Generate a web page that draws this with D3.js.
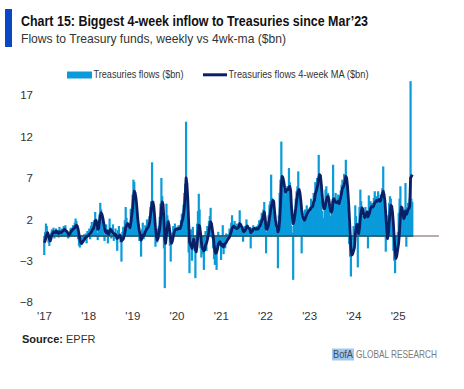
<!DOCTYPE html>
<meta charset="utf-8" />
<style>
  body {
    margin: 0;
    background: white;
  }
  text {
    font-family: "Liberation Sans Narrow", "Liberation Sans", sans-serif;
  }
</style>

<body>
  <svg id="chart" width="464" height="389"></svg>
</body>
<script src="https://d3js.org/d3.v7.min.js"></script>
<script>
  // weekly flows to Treasury funds ($bn), one array per calendar year
  const years = [2017, 2018, 2019, 2020, 2021, 2022, 2023, 2024, 2025];

  const flows2017 = [-2.3, 0.5, 1.5, 1.2, 0.3, -0.8, -1.2, -0.5, 0.4, 0.8, 0.3, 1.0, -0.3, 0.6, 0.9, 0.2, 0.7, -0.2, 1.1, 0.5, 0.3, 0.9, 0.4, 1.2, 0.8, 1.3, 0.2, 0.6, -0.3, -0.2, 0.4, 0.9, 1.0, 0.6, 1.3, 0.8, 1.6, 2.1, 1.8, 1.0, -0.4, -1.2, -1.4, -0.6, -1.1, -0.3, -0.8, 0.2, -0.5, 0.3, -0.9, 0.6];
  const flows2018 = [0.3, 0.9, -0.4, 1.2, 1.7, 0.5, 1.0, 1.9, 2.9, 1.2, 0.4, -0.5, 1.5, 2.6, 4.0, 3.2, 2.1, 1.8, 0.4, -0.6, 0.2, 1.4, 0.8, -0.9, 0.5, 2.1, 1.0, -0.3, 0.6, 1.4, -0.6, 0.3, 0.9, -0.4, -1.8, 0.7, 1.2, 0.3, -0.8, -3.1, 0.5, 1.1, 0.8, 1.9, 3.5, 2.2, 0.9, 1.6, 0.4, 1.2, 3.3, 2.6];
  const flows2019 = [5.0, 6.8, 6.5, 4.2, 2.8, 1.2, 0.5, 1.5, -0.6, 0.3, -2.5, 0.8, 1.6, -0.4, 0.6, 1.3, 0.9, 2.0, 0.4, 1.5, 2.4, 3.5, 4.2, 8.9, 3.5, 1.8, 0.5, -1.3, 0.2, -0.8, 0.9, 1.2, 2.3, 3.9, 7.0, 4.8, 2.0, -1.5, -6.3, 0.6, 3.9, 2.5, 2.0, 0.4, -1.2, -3.1, -0.8, 0.4, 1.2, 0.8, 1.5, 0.5];
  const flows2020 = [1.1, 0.6, 1.3, 0.8, 1.0, 1.9, 2.7, 2.2, 3.8, 5.2, 6.3, 13.8, 5.8, 1.5, -2.0, -4.5, -1.0, 0.8, -3.0, 1.1, -0.5, -1.8, -5.1, -1.2, 1.5, 3.0, 5.1, 3.2, -1.5, -2.6, -0.5, -2.2, -4.1, -1.0, 0.6, -1.8, 1.2, 0.5, 1.8, 2.4, 3.4, 1.5, -0.3, -1.5, -2.8, -3.5, -1.6, -4.1, -0.8, 0.5, -1.2, -0.4];
  const flows2021 = [-2.9, -1.5, 1.3, -2.2, -0.8, -1.5, 0.3, -0.6, 0.2, -0.3, 0.9, 0.5, 1.6, 2.5, 1.2, 0.6, 1.8, 0.4, 1.0, 1.5, 0.8, 1.2, 3.1, 1.0, 0.5, 0.9, -0.7, 0.8, 1.2, 0.4, 2.0, 1.3, 0.7, 0.2, 1.1, -1.5, 1.0, 0.6, 1.3, 0.8, 1.0, 0.5, 1.2, 0.7, 1.4, 1.9, 1.0, 2.1, 2.8, 1.5, 3.2, 4.1];
  const flows2022 = [1.0, -2.1, 0.5, 1.8, 2.5, 3.8, 4.2, 7.4, 4.6, 3.0, 2.2, 1.5, 0.8, 1.8, 0.6, -3.9, 2.5, 5.2, 6.8, 11.4, 6.5, 4.8, 5.6, 5.0, 4.2, 5.8, 6.0, 5.3, 8.2, 6.5, 3.5, 1.2, 0.4, -5.3, 2.6, 3.2, 4.5, 5.4, 6.0, 7.8, 5.5, 4.2, 2.5, -2.1, 1.8, 2.4, 1.6, 3.2, 2.8, 3.7, 2.5, 3.3];
  const flows2023 = [3.0, 3.5, 4.5, 2.8, 4.0, 5.2, 4.8, 6.5, 5.0, 7.0, 6.2, 9.8, 7.5, 6.0, 6.2, 3.0, 2.2, 1.5, 4.0, 5.6, 6.0, 4.8, 5.2, 3.5, 2.0, 2.4, 3.5, 4.2, 8.6, 3.0, 4.6, 5.2, 3.8, 4.5, 5.0, 3.2, 4.8, 5.5, 6.2, 6.8, 5.0, 7.5, 6.0, 9.2, 7.0, 3.5, 1.5, -1.0, -2.5, -4.9, -1.8, -0.5];
  const flows2024 = [1.2, -1.0, 3.7, 2.4, 0.5, -3.8, 1.6, 3.5, 5.6, 4.2, 2.4, 2.0, 1.6, 2.8, 3.5, 2.2, 3.0, -1.5, 4.9, 3.8, 4.2, 2.6, 4.0, 3.4, 4.6, 5.4, 3.2, 4.8, 3.6, 5.4, 4.1, 2.8, 5.0, 4.4, 5.8, 8.4, 3.5, 1.2, -1.9, 0.8, -0.5, 2.5, 4.0, 4.8, 4.5, 3.2, 1.0, -1.8, -3.0, -4.5, -2.8, -1.5];
  const flows2025 = [0.5, 2.8, 4.5, 6.0, 3.5, 2.2, 1.5, 2.8, 3.2, 6.4, -1.3, 3.5, 4.0, 3.0, 4.5, 18.7, 4.5, 4.1];

  // 4-week moving average ($bn)
  const ma2017 = [-0.8, -0.6, -0.2, 0.2, 0.4, 0.1, -0.3, -0.6, -0.3, 0.1, 0.3, 0.5, 0.4, 0.4, 0.6, 0.4, 0.5, 0.3, 0.5, 0.5, 0.4, 0.5, 0.6, 0.7, 0.8, 0.7, 0.6, 0.5, 0.3, 0.1, 0.2, 0.4, 0.6, 0.7, 0.8, 0.9, 1.0, 1.2, 1.3, 1.2, 0.8, 0.2, -0.4, -0.8, -0.9, -0.8, -0.6, -0.5, -0.3, -0.2, -0.1, 0.0];
  const ma2018 = [0.0, 0.2, 0.3, 0.4, 0.6, 0.8, 0.9, 1.3, 1.8, 1.9, 1.6, 0.8, 0.9, 1.7, 2.4, 2.8, 2.6, 2.2, 1.6, 1.0, 0.5, 0.4, 0.6, 0.3, 0.2, 0.6, 0.8, 0.7, 0.5, 0.4, 0.3, 0.1, 0.2, 0.0, -0.3, -0.2, 0.0, 0.1, -0.1, -0.6, -0.5, -0.4, -0.1, 0.4, 1.0, 1.3, 1.5, 1.4, 1.2, 1.0, 1.5, 2.3];
  const ma2019 = [3.3, 4.6, 5.4, 5.2, 4.6, 3.5, 2.2, 1.2, 0.6, 0.1, -0.5, -0.3, 0.1, 0.0, 0.2, 0.5, 0.7, 0.9, 1.0, 1.2, 1.6, 2.4, 3.2, 4.0, 4.1, 3.6, 2.4, 1.0, 0.1, -0.5, -0.3, 0.3, 0.9, 2.0, 3.5, 4.1, 3.8, 2.0, -0.3, -0.9, 0.2, 1.0, 1.7, 1.3, 0.5, -0.4, -0.9, -0.6, -0.1, 0.4, 0.7, 0.8];
  const ma2020 = [0.8, 0.8, 0.9, 0.9, 0.9, 1.2, 1.7, 2.0, 2.6, 3.5, 4.9, 7.0, 6.3, 4.5, 1.8, -0.7, -1.0, -1.2, -1.5, -0.8, -0.4, -0.9, -1.6, -1.9, -1.2, 0.2, 1.3, 1.2, 0.4, -0.8, -1.4, -1.6, -1.8, -1.7, -1.1, -0.9, -0.5, 0.0, 0.6, 1.2, 1.7, 1.5, 0.8, 0.0, -1.0, -1.8, -2.1, -2.0, -1.6, -1.0, -0.8, -0.7];
  const ma2021 = [-1.0, -1.2, -1.0, -1.3, -1.1, -0.9, -0.8, -0.6, -0.4, -0.3, -0.1, 0.2, 0.5, 0.9, 1.1, 1.2, 1.1, 1.0, 0.9, 0.9, 1.0, 1.1, 1.5, 1.4, 1.2, 1.0, 0.6, 0.5, 0.6, 0.8, 1.1, 1.2, 1.0, 0.9, 0.8, 0.4, 0.5, 0.6, 0.8, 0.9, 0.9, 0.8, 0.9, 0.8, 0.9, 1.1, 1.2, 1.5, 1.8, 2.0, 2.5, 2.9];
  const ma2022 = [2.1, 0.9, 0.8, 1.0, 1.4, 2.1, 2.8, 3.5, 3.9, 4.3, 4.2, 3.0, 2.0, 1.3, 1.1, 0.5, 0.8, 1.8, 3.8, 6.2, 7.2, 7.0, 6.5, 5.8, 5.3, 5.5, 5.6, 5.6, 5.9, 6.0, 5.5, 3.5, 2.2, 1.5, 1.8, 2.5, 3.3, 4.2, 5.0, 5.5, 5.6, 5.2, 4.3, 3.2, 2.5, 2.1, 1.9, 2.0, 2.3, 2.6, 2.8, 3.0];
  const ma2023 = [3.1, 3.2, 3.4, 3.5, 3.6, 4.1, 4.3, 5.1, 5.4, 5.8, 6.2, 7.0, 7.4, 7.3, 6.3, 5.0, 3.9, 3.3, 3.3, 3.8, 4.3, 4.7, 4.8, 4.4, 3.6, 3.0, 2.9, 3.2, 4.4, 4.5, 4.2, 4.1, 4.0, 4.1, 4.2, 3.9, 4.3, 4.7, 5.2, 5.8, 5.9, 6.2, 6.6, 7.2, 7.0, 6.0, 4.5, 2.7, 0.6, -1.5, -2.3, -2.2];
  const ma2024 = [-1.8, -1.4, 0.2, 0.9, 1.4, 0.6, 0.3, 1.0, 2.2, 2.9, 3.4, 3.2, 2.6, 2.2, 2.5, 2.6, 2.9, 2.3, 2.6, 2.8, 3.3, 3.5, 3.6, 3.5, 3.7, 4.0, 4.1, 4.3, 4.2, 4.3, 4.4, 4.2, 4.3, 4.8, 5.1, 5.4, 5.0, 4.2, 2.6, 1.0, -0.3, 0.2, 1.6, 2.8, 3.7, 3.6, 2.8, 1.5, -0.3, -1.8, -2.7, -2.4];
  const ma2025 = [-1.5, -0.8, 0.6, 2.4, 3.5, 3.4, 2.6, 2.1, 2.3, 3.0, 2.6, 2.8, 3.2, 3.3, 3.6, 7.0, 7.2, 7.4];

  const flowsByYear = [flows2017, flows2018, flows2019, flows2020, flows2021, flows2022, flows2023, flows2024, flows2025];
  const maByYear = [ma2017, ma2018, ma2019, ma2020, ma2021, ma2022, ma2023, ma2024, ma2025];

  const yTicks = [17, 12, 7, 2, -3, -8];
  const xTickYears = [2017, 2018, 2019, 2020, 2021, 2022, 2023, 2024, 2025];

  const titleText = "Chart 15: Biggest 4-week inflow to Treasuries since Mar\u201923";
  const subtitleText = "Flows to Treasury funds, weekly vs 4wk-ma ($bn)";
  const legendLabels = ["Treasuries flows ($bn)", "Treasuries flows 4-week MA ($bn)"];

  const barColor = "#0a9bdb";
  const lineColor = "#0b1f66";

  // turn the yearly arrays into dated weekly points
  const toWeekly = (byYear) =>
    byYear.flatMap((vals, i) =>
      vals.map((v, k) => ({ date: new Date(years[i], 0, 3 + 7 * k), value: v }))
    );
  const flows = toWeekly(flowsByYear);
  const ma = toWeekly(maByYear);

  const svg = d3.select("#chart");

  svg.append("rect").attr("width", 464).attr("height", 389).attr("fill", "white");

  // scales
  const x = d3
    .scaleTime()
    .domain([new Date(2017, 0, 1), new Date(2026, 0, 1)])
    .range([44, 441.8]);

  const y = d3.scaleLinear().domain([-8, 17]).range([302.2, 95.2]);

  // header
  svg.append("rect").attr("x", 5).attr("y", 9).attr("width", 7).attr("height", 38).attr("fill", "#0b47c3");

  svg
    .append("text")
    .attr("x", 21)
    .attr("y", 26)
    .attr("font-size", 14.5)
    .attr("font-weight", "bold")
    .attr("fill", "#111")
    .attr("textLength", 347)
    .attr("lengthAdjust", "spacingAndGlyphs")
    .text(titleText);

  svg
    .append("text")
    .attr("x", 21)
    .attr("y", 42.5)
    .attr("font-size", 13)
    .attr("fill", "#333")
    .attr("textLength", 265)
    .attr("lengthAdjust", "spacingAndGlyphs")
    .text(subtitleText);

  // legend
  const legend = svg.append("g").attr("font-size", 10.5).attr("fill", "#333");
  legend.append("rect").attr("x", 67).attr("y", 71.5).attr("width", 25).attr("height", 7).attr("fill", barColor);
  legend
    .append("text")
    .attr("x", 93.5)
    .attr("y", 78.3)
    .attr("textLength", 90)
    .attr("lengthAdjust", "spacingAndGlyphs")
    .text(legendLabels[0]);
  legend
    .append("line")
    .attr("x1", 203)
    .attr("x2", 227)
    .attr("y1", 74.8)
    .attr("y2", 74.8)
    .attr("stroke", lineColor)
    .attr("stroke-width", 3);
  legend
    .append("text")
    .attr("x", 228.5)
    .attr("y", 78.3)
    .attr("textLength", 140)
    .attr("lengthAdjust", "spacingAndGlyphs")
    .text(legendLabels[1]);

  // y axis labels only
  const yAxis = svg
    .append("g")
    .attr("transform", "translate(35,0)")
    .call(d3.axisLeft(y).tickValues(yTicks).tickSize(0).tickPadding(2));
  yAxis.select(".domain").remove();
  yAxis.selectAll("text").attr("font-size", 11.5).attr("fill", "#333").attr("font-family", null);

  // x axis labels only
  const xAxis = svg
    .append("g")
    .attr("transform", "translate(0,309)")
    .call(
      d3
        .axisBottom(x)
        .tickValues(xTickYears.map((yr) => new Date(yr, 0, 1)))
        .tickFormat((d) => "'" + String(d.getFullYear()).slice(2))
        .tickSize(0)
        .tickPadding(3)
    );
  xAxis.select(".domain").remove();
  xAxis.selectAll("text").attr("font-size", 11.5).attr("fill", "#333").attr("font-family", null);

  // weekly flow bars
  svg
    .append("g")
    .selectAll("rect")
    .data(flows)
    .join("rect")
    .attr("x", (d) => x(d.date) - 1.1)
    .attr("width", 2.2)
    .attr("y", (d) => y(Math.max(0, d.value)))
    .attr("height", (d) => Math.abs(y(d.value) - y(0)))
    .attr("fill", barColor);

  // zero line: grey over the full axis, teal under the data
  const lastDate = flows[flows.length - 1].date;
  svg
    .append("line")
    .attr("x1", x(new Date(2017, 0, 1)))
    .attr("x2", x(new Date(2025, 11, 8)))
    .attr("y1", y(0))
    .attr("y2", y(0))
    .attr("stroke", "#a58e8e")
    .attr("stroke-width", 1.5);
  svg
    .append("line")
    .attr("x1", x(new Date(2017, 0, 1)))
    .attr("x2", x(lastDate) + 1)
    .attr("y1", y(0))
    .attr("y2", y(0))
    .attr("stroke", "#0b566c")
    .attr("stroke-width", 1.5);

  // 4-week moving average line
  svg
    .append("path")
    .datum(ma)
    .attr("fill", "none")
    .attr("stroke", lineColor)
    .attr("stroke-width", 2.8)
    .attr("stroke-linejoin", "round")
    .attr(
      "d",
      d3
        .line()
        .x((d) => x(d.date))
        .y((d) => y(d.value))
    );

  // footer
  const src = svg.append("text").attr("x", 22).attr("y", 343).attr("font-size", 11).attr("fill", "#222");
  src.append("tspan").attr("font-weight", "bold").text("Source:");
  src.append("tspan").attr("fill", "#333").text(" EPFR");

  svg.append("rect").attr("x", 332).attr("y", 348.5).attr("width", 22).attr("height", 12).attr("fill", "#a3c9ea");
  svg
    .append("text")
    .attr("x", 333)
    .attr("y", 357.8)
    .attr("font-size", 10.5)
    .attr("fill", "#3d4a5c")
    .attr("textLength", 20)
    .attr("lengthAdjust", "spacingAndGlyphs")
    .text("BofA");
  svg
    .append("text")
    .attr("x", 356)
    .attr("y", 357.8)
    .attr("font-size", 10.5)
    .attr("fill", "#7a7a7a")
    .attr("textLength", 81)
    .attr("lengthAdjust", "spacingAndGlyphs")
    .text("GLOBAL RESEARCH");
</script>
